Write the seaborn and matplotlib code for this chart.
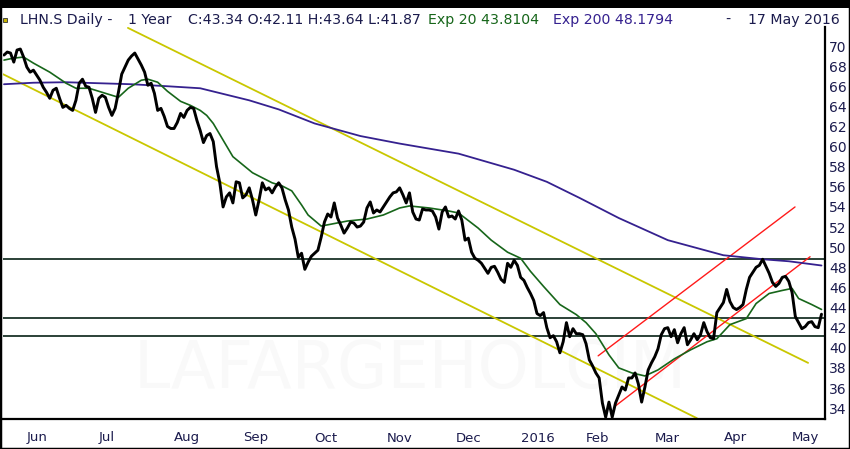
import numpy as np
import pandas as pd
import matplotlib
matplotlib.use('Agg')
import matplotlib.pyplot as plt
from matplotlib.patches import Rectangle
import seaborn as sns

# ---------------- data ----------------
HOLIDAYS = ['2015-05-25', '2015-12-24', '2015-12-25', '2015-12-31', '2016-01-01',
            '2016-03-25', '2016-03-28', '2016-05-05', '2016-05-16']
sessions = pd.bdate_range('2015-05-20', '2016-05-17', freq='C', holidays=HOLIDAYS)

close = [
    69.1, 69.4, 69.3, 68.4, 69.6, 69.7, 68.9, 67.9, 67.4, 67.6,
    67.1, 66.6, 65.9, 65.4, 64.8, 65.6, 65.8, 64.8, 63.9, 64.1,
    63.8, 63.6, 64.6, 66.3, 66.7, 66.0, 65.9, 64.8, 63.4, 64.8,
    65.1, 64.9, 63.9, 63.1, 63.8, 65.4, 67.2, 67.9, 68.6, 69.0,
    69.3, 68.7, 68.1, 67.4, 66.1, 66.3, 65.3, 63.6, 63.8, 63.0,
    62.0, 61.8, 61.8, 62.4, 63.3, 62.9, 63.6, 63.9, 63.8, 62.6,
    61.6, 60.4, 61.1, 61.3, 60.5, 58.0, 56.4, 54.0, 55.0, 55.4,
    54.4, 56.5, 56.4, 54.9, 55.2, 55.9, 54.7, 53.2, 54.7, 56.4,
    55.7, 55.9, 55.4, 56.0, 56.4, 55.9, 54.7, 53.7, 52.0, 50.8,
    49.0, 49.4, 47.8, 48.5, 49.1, 49.4, 49.7, 51.0, 52.5, 53.3,
    53.0, 54.4, 52.9, 52.2, 51.4, 51.9, 52.5, 52.4, 52.0, 52.1,
    52.5, 53.9, 54.5, 53.4, 53.7, 53.5, 54.0, 54.5, 55.0, 55.4,
    55.5, 55.9, 55.2, 54.4, 55.4, 53.5, 52.8, 52.7, 53.8, 53.7,
    53.7, 53.6, 53.0, 51.8, 53.5, 54.0, 53.0, 53.1, 52.8, 53.6,
    52.7, 50.7, 50.9, 49.5, 48.9, 48.7, 48.4, 47.9, 47.4, 48.0,
    48.1, 47.5, 46.8, 46.5, 48.4, 48.0, 48.7, 48.2, 47.0, 46.7,
    46.0, 45.4, 44.7, 43.4, 43.2, 43.5, 42.0, 41.0, 41.2, 40.6,
    39.5, 40.6, 42.5, 41.1, 41.9, 41.4, 41.4, 41.3, 40.4, 38.8,
    38.2, 37.5, 37.0, 34.5, 33.1, 34.6, 33.1, 34.5, 35.3, 36.1,
    35.8, 37.0, 37.0, 37.5, 36.4, 34.6, 36.1, 37.8, 38.5, 39.1,
    39.9, 41.3, 41.9, 42.0, 41.1, 41.8, 40.5, 41.4, 42.0, 40.3,
    40.8, 41.4, 40.8, 41.3, 42.5, 41.6, 41.0, 40.9, 43.5, 44.0,
    44.5, 45.8, 44.6, 44.0, 43.8, 44.0, 44.3, 45.8, 47.0, 47.5,
    48.0, 48.2, 48.8, 48.1, 47.4, 46.5, 46.1, 46.4, 47.0, 47.1,
    46.6, 45.5, 43.1, 42.5, 41.9, 42.1, 42.5, 42.6, 42.1, 42.0,
    43.34,
]

ema20_session = [0, 3, 6, 9, 14, 19, 22, 26, 29, 35, 38, 42, 44, 47, 50, 54, 57, 60,
                 62, 64, 70, 76, 82, 85, 88, 91, 93, 97, 105, 111, 116, 121, 124,
                 130, 136, 139, 145, 149, 154, 158, 161, 165, 170, 175, 178, 181,
                 185, 188, 192, 196, 200, 205, 210, 215, 218, 222, 227, 230, 234,
                 238, 241, 243, 247, 250]
ema20_value = [68.6, 68.8, 68.9, 68.3, 67.4, 66.3, 65.8, 65.8, 65.5, 64.9, 65.8,
               66.6, 66.7, 66.4, 65.5, 64.5, 64.1, 63.6, 63.1, 62.3, 59.0, 57.4,
               56.4, 56.1, 55.6, 54.2, 53.2, 52.1, 52.6, 52.8, 53.2, 53.9, 54.1,
               53.9, 53.6, 53.4, 51.9, 50.7, 49.5, 48.9, 47.6, 46.1, 44.3, 43.3,
               42.5, 41.4, 39.3, 38.0, 37.5, 37.2, 37.8, 38.9, 39.8, 40.6, 40.9,
               42.3, 42.9, 44.4, 45.4, 45.7, 45.9, 44.9, 44.3, 43.81]

ema200_session = [0, 9, 19, 29, 39, 50, 60, 75, 84, 95, 109, 121, 139, 156, 166,
                  176, 188, 203, 220, 232, 240, 250]
ema200_value = [66.2, 66.35, 66.4, 66.3, 66.2, 66.0, 65.8, 64.6, 63.7, 62.3, 61.05,
                60.3, 59.3, 57.7, 56.5, 54.9, 52.9, 50.7, 49.2, 48.8, 48.6, 48.18]

yellow_upper_session = [37.9, 245.9]
yellow_upper_value = [71.8, 38.5]
yellow_lower_session = [-0.3, 211.9]
yellow_lower_value = [67.2, 33.0]
red_upper_session = [181.7, 241.9]
red_upper_value = [39.2, 54.0]
red_lower_session = [186.9, 246.5]
red_lower_value = [34.2, 49.05]
levels = [48.83, 42.93, 41.2]

y_ticks = list(range(34, 71, 2))

# ---------------- style ----------------
sns.set_style('white')
plt.rcParams['font.family'] = ['DejaVu Sans']

W, H = 850, 449
fig = plt.figure(figsize=(W / 100, H / 100), dpi=100)
fig.patch.set_facecolor('white')

ax = fig.add_axes([3 / W, 1 - 419 / H, (825 - 3) / W, (419 - 27) / H])
ax.set_facecolor('white')

NAVY = '#1b1b4d'
GREEN = '#17661a'
PURPLE = '#35218f'
YELLOW = '#c9c700'
RED = '#ff1a1a'
LEVEL = '#1a3328'

idx = np.arange(len(close))

ax.text(410 / W, 1 - 370 / H, 'LAFARGEHOLCIM', transform=fig.transFigure,
        fontsize=47, color='#f9f9f9', ha='center', va='center', zorder=0.5)

for lv in levels:
    ax.axhline(lv, color=LEVEL, linewidth=1.3, zorder=1)

for xs, ys, c, lw in [(yellow_upper_session, yellow_upper_value, YELLOW, 1.3),
                      (yellow_lower_session, yellow_lower_value, YELLOW, 1.3),
                      (red_upper_session, red_upper_value, RED, 1.0),
                      (red_lower_session, red_lower_value, RED, 1.0)]:
    sns.lineplot(x=xs, y=ys, ax=ax, color=c, linewidth=lw, estimator=None,
                 sort=False, legend=False, zorder=2)

sns.lineplot(x=ema200_session, y=ema200_value, ax=ax, color=PURPLE, linewidth=1.3,
             estimator=None, sort=False, legend=False, zorder=3)
sns.lineplot(x=ema20_session, y=ema20_value, ax=ax, color=GREEN, linewidth=1.2,
             estimator=None, sort=False, legend=False, zorder=4)
sns.lineplot(x=idx, y=close, ax=ax, color='black', linewidth=2.1,
             estimator=None, sort=False, legend=False, zorder=5)

ax.set_xlim(-0.3, 251.07)
ax.set_ylim(32.92, 71.89)

# month ticks at first session of each month
tick_pos, tick_lab = [], []
for i in range(1, len(sessions)):
    if sessions[i].month != sessions[i - 1].month:
        tick_pos.append(i)
        d = sessions[i]
        tick_lab.append(str(d.year) if d.month == 1 else d.strftime('%b'))
ax.set_xticks(tick_pos)
ax.set_xticklabels(tick_lab)
for lab in ax.get_xticklabels():
    lab.set_horizontalalignment('left')
ax.tick_params(axis='x', direction='out', length=6, width=1.5, color='black',
               labelsize=9.5, labelcolor=NAVY, pad=3)

ax.yaxis.tick_right()
ax.set_yticks(y_ticks)
ax.set_yticklabels([str(v) for v in y_ticks])
ax.tick_params(axis='y', length=0, labelsize=10, labelcolor=NAVY, pad=3)
ax.set_xlabel('')
ax.set_ylabel('')

for s in ['left', 'top']:
    ax.spines[s].set_visible(False)
ax.spines['right'].set_linewidth(1.6)
ax.spines['right'].set_color('black')
ax.spines['bottom'].set_linewidth(1.6)
ax.spines['bottom'].set_color('black')

# frame around figure
fig.add_artist(Rectangle((0, 1 - 8 / H), 1, 8 / H, transform=fig.transFigure,
                         facecolor='black', edgecolor='none'))
fig.add_artist(Rectangle((0, 0), 1, 1, transform=fig.transFigure,
                         facecolor='none', edgecolor='black', linewidth=2.5))
fig.add_artist(Rectangle((3 / W, 1 - 22 / H), 4 / W, 4 / H, transform=fig.transFigure,
                         facecolor='#c8b400', edgecolor='#333333', linewidth=0.6))

# header
ty = 1 - 20 / H
fig.text(20 / W, ty, 'LHN.S Daily -', color=NAVY, fontsize=10.2, va='center')
fig.text(128 / W, ty, '1 Year', color=NAVY, fontsize=10.2, va='center')
fig.text(188 / W, ty, 'C:43.34 O:42.11 H:43.64 L:41.87', color=NAVY, fontsize=10.2, va='center')
fig.text(428 / W, ty, 'Exp 20 43.8104', color=GREEN, fontsize=10.2, va='center')
fig.text(553 / W, ty, 'Exp 200 48.1794', color=PURPLE, fontsize=10.2, va='center')
fig.text(725 / W, ty, '-', color=NAVY, fontsize=10.2, va='center')
fig.text(840 / W, ty, '17 May 2016', color=NAVY, fontsize=10.2, va='center', ha='right')

fig.savefig('out.png', dpi=100, facecolor='white')
